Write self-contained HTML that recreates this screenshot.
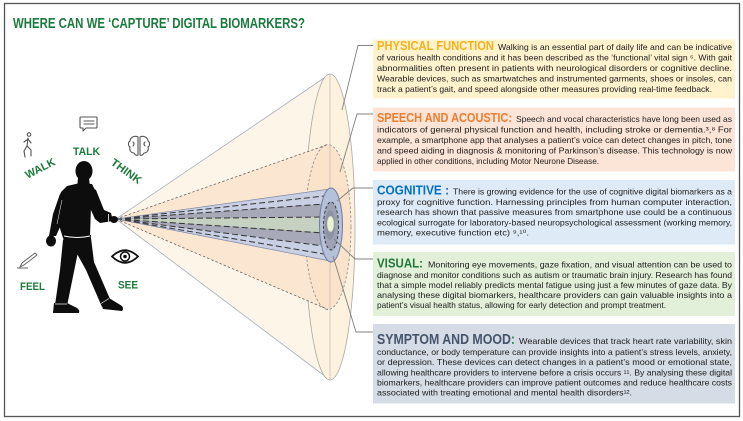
<!DOCTYPE html>
<html><head><meta charset="utf-8">
<style>
html,body{margin:0;padding:0;background:#fff;}
svg{display:block;}
.b{font-family:"Liberation Sans",sans-serif;font-size:8.2px;fill:#1c1c1c;}
.h{font-family:"Liberation Sans",sans-serif;font-weight:bold;font-size:12.5px;}
.lb{font-family:"Liberation Sans",sans-serif;font-weight:bold;font-size:11px;fill:#1e7b3b;}
</style></head>
<body>
<svg width="743" height="421" viewBox="0 0 743 421" xmlns="http://www.w3.org/2000/svg">
<rect x="0" y="0" width="743" height="421" fill="#fff"/>
<rect x="4.5" y="3.5" width="735" height="413" fill="none" stroke="#555" stroke-width="1.3"/>
<text x="13" y="28" textLength="292" lengthAdjust="spacingAndGlyphs" style="font-family:'Liberation Sans',sans-serif;font-weight:bold;font-size:14.5px;fill:#1b7a3d;">WHERE CAN WE ‘CAPTURE’ DIGITAL BIOMARKERS?</text>

<!-- cone -->
<polygon points="116,219 330,74 330,380" fill="#fdf5e7"/>
<line x1="116" y1="219" x2="330" y2="74" stroke="#a9adbf" stroke-width="0.8"/>
<line x1="116" y1="219" x2="330" y2="380" stroke="#a9adbf" stroke-width="0.8"/>
<ellipse cx="330" cy="227" rx="25" ry="153" fill="#fdf2de" stroke="#a8a8a8" stroke-width="0.8"/>
<polygon points="116,219 328,144.5 328,309.5" fill="#fbe6d2"/>
<ellipse cx="328" cy="227" rx="23" ry="82.5" fill="#fae2cb" stroke="#8a8a8a" stroke-width="0.8" stroke-dasharray="2.5 2"/>
<line x1="116" y1="219" x2="328" y2="144.5" stroke="#555" stroke-width="0.7" stroke-dasharray="2.5 2"/>
<line x1="116" y1="219" x2="328" y2="309.5" stroke="#555" stroke-width="0.7" stroke-dasharray="2.5 2"/>
<line x1="330" y1="74" x2="330" y2="380" stroke="#b0b0b0" stroke-width="0.6"/>
<polygon points="116,219 330,189 330,261" fill="#c9d0e4"/>
<polygon points="116,219 330,203.5 330,246.5" fill="#a7a9b9"/>
<polygon points="116,219 330,217 330,233" fill="#c7d1c2"/>
<g stroke="#333" stroke-width="1" stroke-dasharray="6 3" fill="none">
<line x1="116" y1="219" x2="324" y2="196"/>
<line x1="116" y1="219" x2="324" y2="204"/>
<line x1="116" y1="219" x2="324" y2="217"/>
<line x1="116" y1="219" x2="324" y2="233"/>
<line x1="116" y1="219" x2="324" y2="246"/>
<line x1="116" y1="219" x2="324" y2="254"/>
</g>
<line x1="116" y1="219" x2="330" y2="189" stroke="#7f8aa6" stroke-width="0.7"/>
<line x1="116" y1="219" x2="330" y2="261" stroke="#7f8aa6" stroke-width="0.7"/>
<ellipse cx="331" cy="225" rx="11.5" ry="37" fill="#b5c0d9" stroke="#6d7c9e" stroke-width="1"/>
<ellipse cx="331" cy="226" rx="7.5" ry="24" fill="#9da3b5" stroke="#2e2e2e" stroke-width="0.9" stroke-dasharray="3 2"/>
<ellipse cx="330" cy="225" rx="5" ry="15" fill="#8d93a3"/>
<ellipse cx="330.5" cy="224" rx="3.5" ry="8" fill="#e7f3d3" stroke="#a9b9a0" stroke-width="0.5"/>

<!-- figure -->
<g fill="#0d0d0d">
<ellipse cx="84" cy="171" rx="8.5" ry="10"/>
<polygon points="78,178 89,178 90,187 77,188"/>
<polygon points="67,186 80,183 92,184 97,194 99,206 91,207 90,236 63,238 58,222 57,204 61,192"/>
<polygon points="89,186 96,190 104,210 111,213 113,221 100,223 95,219 86,199"/>
<ellipse cx="114" cy="219.5" rx="4" ry="3.5"/>
<polygon points="60,194 68,197 64,218 56,236 49,236 53,214"/>
<ellipse cx="51" cy="241" rx="5" ry="5.5"/>
<polygon points="63,234 91,235 90,252 64,250"/>
<polygon points="63,240 79,247 67,306 55,305 60,270"/>
<polygon points="77,238 91,238 94,262 110,299 102,307 86,270 76,252"/>
<path d="M54,303 L67,303 L77,308 Q80,310 79,313 L53,313 Z"/>
<path d="M101,303 L109,298 L122,306 Q124,309 122,311 L103,309 Z"/>
</g>
<path d="M64,236 Q77,239 90,236" stroke="#fff" stroke-width="1" fill="none"/>
<line x1="108.5" y1="214" x2="108.5" y2="223" stroke="#fff" stroke-width="0.8"/>
<line x1="55" y1="304" x2="67" y2="304" stroke="#fff" stroke-width="0.7"/>
<line x1="101" y1="303.5" x2="109" y2="298.5" stroke="#fff" stroke-width="0.7"/>
<path d="M62,200 L57,224" stroke="#fff" stroke-width="0.5" fill="none"/>

<!-- icons -->
<g stroke="#555" stroke-width="1.1" fill="none" stroke-linecap="round" stroke-linejoin="round">
<circle cx="29" cy="134.5" r="1.8"/>
<path d="M28,138 L27,146 L24,151 L25,157"/>
<path d="M27,146 L31,150 L31,156"/>
<path d="M24,142 L28,139 L31,143"/>
<path d="M81,117 h15 a1,1 0 0 1 1,1 v9 a1,1 0 0 1 -1,1 h-10 l-3,3 v-3 h-2 a1,1 0 0 1 -1,-1 v-9 a1,1 0 0 1 1,-1z"/>
<path d="M84,121 H94 M84,124 H94"/>
<path d="M138,137 c-4,-2 -8,1 -8,4 c-2,1 -2,5 0,6 c-1,3 1,6 4,6 c1,2 3,3 4,2 z"/>
<path d="M140,137 c4,-2 8,1 8,4 c2,1 2,5 0,6 c1,3 -1,6 -4,6 c-1,2 -3,3 -4,2 z"/>
<path d="M133,142 q2,2 0,4 M145,142 q-2,2 0,4"/>
</g>
<g stroke="#666" stroke-width="1" fill="none">
<path d="M20,267 L22,263 L35,253 L37,255 L24,265 Z"/>
<path d="M17,268 L28,268"/>
</g>
<path d="M112,256.5 Q125,244 138,256.5 Q125,269 112,256.5 Z" fill="#fff" stroke="#111" stroke-width="1.8"/>
<circle cx="125" cy="256.5" r="4.5" fill="none" stroke="#111" stroke-width="1.5"/>
<circle cx="125" cy="256.5" r="1.8" fill="#111"/>

<text class="lb" x="73" y="155" textLength="27" lengthAdjust="spacingAndGlyphs">TALK</text>
<text class="lb" x="40" y="172" text-anchor="middle" transform="rotate(-27 40 168)" textLength="32" lengthAdjust="spacingAndGlyphs">WALK</text>
<text class="lb" x="126.5" y="175" text-anchor="middle" transform="rotate(36 126.5 171)" textLength="35" lengthAdjust="spacingAndGlyphs">THINK</text>
<text class="lb" x="20" y="290" textLength="25" lengthAdjust="spacingAndGlyphs">FEEL</text>
<text class="lb" x="118" y="288.5" textLength="20" lengthAdjust="spacingAndGlyphs">SEE</text>

<!-- boxes -->
<rect x="373" y="39.5" width="362" height="59" fill="#fff2cc"/>
<rect x="373" y="107.5" width="362" height="64" fill="#fce4d6"/>
<rect x="373" y="180" width="362" height="64.5" fill="#deebf7"/>
<rect x="373" y="252" width="362" height="64" fill="#e2f0d9"/>
<rect x="373" y="324" width="362" height="79.5" fill="#d6dce5"/>

<!-- box 1 -->
<text class="h" x="377" y="50" fill="#f5b21e" textLength="117" lengthAdjust="spacingAndGlyphs">PHYSICAL FUNCTION</text>
<text class="b" x="498" y="50" textLength="234" lengthAdjust="spacingAndGlyphs">Walking is an essential part of daily life and can be indicative</text>
<text class="b" x="377" y="60.7" textLength="355" lengthAdjust="spacingAndGlyphs">of various health conditions and it has been described as the ‘functional’ vital sign ⁶. With gait</text>
<text class="b" x="377" y="71.2" textLength="355" lengthAdjust="spacingAndGlyphs">abnormalities often present in patients with neurological disorders or cognitive decline.</text>
<text class="b" x="377" y="81.7" textLength="355" lengthAdjust="spacingAndGlyphs">Wearable devices, such as smartwatches and instrumented garments, shoes or insoles, can</text>
<text class="b" x="377" y="92.2" textLength="335" lengthAdjust="spacingAndGlyphs">track a patient’s gait, and speed alongside other measures providing real-time feedback.</text>

<!-- box 2 -->
<text class="h" x="377" y="122" fill="#ed7d31" textLength="135" lengthAdjust="spacingAndGlyphs">SPEECH AND ACOUSTIC:</text>
<text class="b" x="516" y="122" textLength="216" lengthAdjust="spacingAndGlyphs">Speech and vocal characteristics have long been used as</text>
<text class="b" x="377" y="132.6" textLength="355" lengthAdjust="spacingAndGlyphs">indicators of general physical function and health, including stroke or dementia.³,⁸  For</text>
<text class="b" x="377" y="143" textLength="355" lengthAdjust="spacingAndGlyphs">example, a smartphone app that analyses a patient’s voice can detect changes in pitch, tone</text>
<text class="b" x="377" y="153.4" textLength="355" lengthAdjust="spacingAndGlyphs">and speed aiding in diagnosis &amp; monitoring of Parkinson’s disease. This technology is now</text>
<text class="b" x="377" y="163.8" textLength="222" lengthAdjust="spacingAndGlyphs">applied in other conditions, including Motor Neurone Disease.</text>

<!-- box 3 -->
<text class="h" x="377" y="194.5" fill="#0070c0" textLength="72" lengthAdjust="spacingAndGlyphs">COGNITIVE :</text>
<text class="b" x="453" y="194.5" textLength="279" lengthAdjust="spacingAndGlyphs">There is growing evidence for the use of cognitive digital biomarkers as a</text>
<text class="b" x="377" y="204.8" textLength="355" lengthAdjust="spacingAndGlyphs">proxy for cognitive function. Harnessing principles from human computer interaction,</text>
<text class="b" x="377" y="215.1" textLength="355" lengthAdjust="spacingAndGlyphs">research has shown that passive measures from smartphone use could be a continuous</text>
<text class="b" x="377" y="225.4" textLength="355" lengthAdjust="spacingAndGlyphs">ecological surrogate for laboratory-based neuropsychological assessment (working memory,</text>
<text class="b" x="377" y="235.6" textLength="152" lengthAdjust="spacingAndGlyphs">memory, executive function etc) ⁹,¹⁰.</text>

<!-- box 4 -->
<text class="h" x="377" y="267.7" fill="#1f7a3a" textLength="46" lengthAdjust="spacingAndGlyphs">VISUAL:</text>
<text class="b" x="428" y="267.7" textLength="304" lengthAdjust="spacingAndGlyphs">Monitoring eye movements, gaze fixation, and visual attention can be used to</text>
<text class="b" x="377" y="277.8" textLength="355" lengthAdjust="spacingAndGlyphs">diagnose and monitor conditions such as autism or traumatic brain injury. Research has found</text>
<text class="b" x="377" y="287.9" textLength="355" lengthAdjust="spacingAndGlyphs">that a simple model reliably predicts mental fatigue using just a few minutes of gaze data. By</text>
<text class="b" x="377" y="298" textLength="355" lengthAdjust="spacingAndGlyphs">analysing these digital biomarkers, healthcare providers can gain valuable insights into a</text>
<text class="b" x="377" y="308.2" textLength="289" lengthAdjust="spacingAndGlyphs">patient’s visual health status, allowing for early detection and prompt treatment.</text>

<!-- box 5 -->
<text class="h" x="377" y="344" fill="#44546a" style="font-size:14.5px" textLength="138" lengthAdjust="spacingAndGlyphs">SYMPTOM AND MOOD<tspan fill="#2f8f4f">:</tspan></text>
<text class="b" x="519" y="344" textLength="213" lengthAdjust="spacingAndGlyphs">Wearable devices that track heart rate variability, skin</text>
<text class="b" x="377" y="355" textLength="355" lengthAdjust="spacingAndGlyphs">conductance, or body temperature can provide insights into a patient’s stress levels, anxiety,</text>
<text class="b" x="377" y="365.2" textLength="355" lengthAdjust="spacingAndGlyphs">or depression. These devices can detect changes in a patient’s mood or emotional state,</text>
<text class="b" x="377" y="375.3" textLength="355" lengthAdjust="spacingAndGlyphs">allowing healthcare providers to intervene before a crisis occurs ¹¹. By analysing these digital</text>
<text class="b" x="377" y="385.4" textLength="355" lengthAdjust="spacingAndGlyphs">biomarkers, healthcare providers can improve patient outcomes and reduce healthcare costs</text>
<text class="b" x="377" y="395.5" textLength="255" lengthAdjust="spacingAndGlyphs">associated with treating emotional and mental health disorders¹².</text>

<!-- connectors -->
<g stroke="#808080" stroke-width="0.9" fill="none">
<polyline points="342,110 358,45.5 373,45.5"/>
<polyline points="340,172 357,114 373,114"/>
<polyline points="337,201 353,188 373,188"/>
<polyline points="334,239 355,259 373,259"/>
<polyline points="333,256 356,332 373,332"/>
</g>
</svg>
</body></html>
